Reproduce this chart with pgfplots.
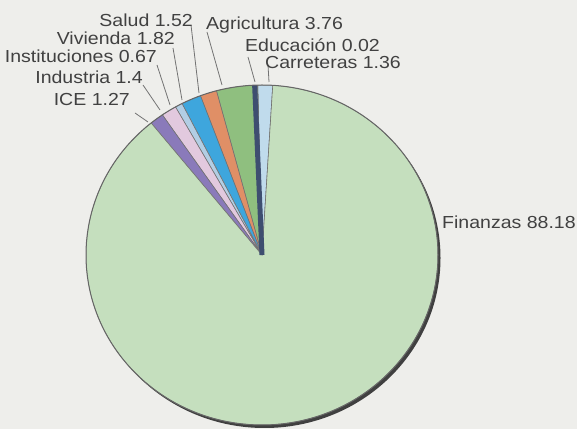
\documentclass[border=0pt]{standalone}
\usepackage{pgfplots}
\usepackage{pgfplotstable}
\pgfplotsset{compat=1.18}
\usepackage{fontspec}
\newfontfamily\lbl[FakeStretch=1.12]{Liberation Sans}

\definecolor{paper}{RGB}{238,238,235}
\definecolor{cFin}{RGB}{197,223,190}
\definecolor{cCar}{RGB}{192,219,236}
\definecolor{cEdu}{RGB}{62,78,112}
\definecolor{cAgr}{RGB}{143,191,127}
\definecolor{cSal}{RGB}{224,143,102}
\definecolor{cViv}{RGB}{62,166,221}
\definecolor{cIns}{RGB}{178,206,228}
\definecolor{cInd}{RGB}{226,201,222}
\definecolor{cIce}{RGB}{138,122,186}
\definecolor{txt}{RGB}{65,65,65}
\definecolor{lead}{RGB}{115,115,115}

% slices counter-clockwise, starting where Carreteras begins
\pgfplotstableread{
name          value  col
Carreteras    1.36   cCar
Educacion     0.02   cEdu
Agricultura   3.76   cAgr
Salud         1.52   cSal
Vivienda      1.82   cViv
Instituciones 0.67   cIns
Industria     1.4    cInd
ICE           1.27   cIce
Finanzas      88.18  cFin
}\piedata

\begin{document}
\begin{tikzpicture}
\useasboundingbox (0,0) rectangle (577bp,429bp);
\fill[paper] (0,0) rectangle (577bp,429bp);
\begin{axis}[width=577bp,height=429bp,scale only axis,
    at={(0,0)},anchor=south west,
    xmin=0,xmax=577,ymin=0,ymax=429,
    hide axis,clip=true]
\pgfplotsextra{
  \xdef\a{86.5}
  % shadow under the rim
  \fill[black!75] (264.5,171) ellipse [x radius=176bp,y radius=170bp];
  \begin{scope}
    \clip (262,174) ellipse [x radius=176bp,y radius=170bp];
    \foreach \i in {0,...,8}{
      \pgfplotstablegetelem{\i}{value}\of\piedata \let\v\pgfplotsretval
      \pgfplotstablegetelem{\i}{col}\of\piedata \let\c\pgfplotsretval
      \pgfmathsetmacro\b{\a+3.6*\v}
      \filldraw[fill=\c,draw=black!55,line width=0.6bp]
        (262,174) -- ++(\a:176bp and 170bp)
        arc[start angle=\a,end angle=\b,x radius=176bp,y radius=170bp] -- cycle;
      \ifnum\i=1 \xdef\edu{\a}\fi
      \xdef\a{\b}
    }
    % the tiny Educacion slice, widened so that it shows
    \draw[cEdu,line width=5bp] (262,174) -- ++(\edu+1:176bp and 170bp);
  \end{scope}
  \draw[black!60,line width=1bp] (262,174) ellipse [x radius=176bp,y radius=170bp];
}
% leader lines
\draw[lead,line width=0.8bp] (191,404) -- (199,336);
\draw[lead,line width=0.8bp] (173,381) -- (182,329);
\draw[lead,line width=0.8bp] (157,364) -- (170,324);
\draw[lead,line width=0.8bp] (143,344) -- (160,319);
\draw[lead,line width=0.8bp] (135,316) -- (148,307);
\draw[lead,line width=0.8bp] (207,397) -- (222,344);
\draw[lead,line width=0.8bp] (248,372) -- (255,347);
\draw[lead,line width=0.8bp] (268,364) -- (269,347);
% labels
\begin{scope}[every node/.style={font=\lbl\fontsize{17.5}{18}\selectfont,text=txt,inner sep=0pt}]
\node[anchor=east] at (193,409) {Salud 1.52};
\node[anchor=east] at (175,391) {Vivienda 1.82};
\node[anchor=east] at (157,373) {Instituciones 0.67};
\node[anchor=east] at (143,352) {Industria 1.4};
\node[anchor=east] at (130,329) {ICE 1.27};
\node[anchor=west] at (206,404) {Agricultura 3.76};
\node[anchor=west] at (245,384) {Educación 0.02};
\node[anchor=west] at (265,366) {Carreteras 1.36};
\node[anchor=west] at (442,207) {Finanzas 88.18};
\end{scope}
\end{axis}
\end{tikzpicture}
\end{document}
